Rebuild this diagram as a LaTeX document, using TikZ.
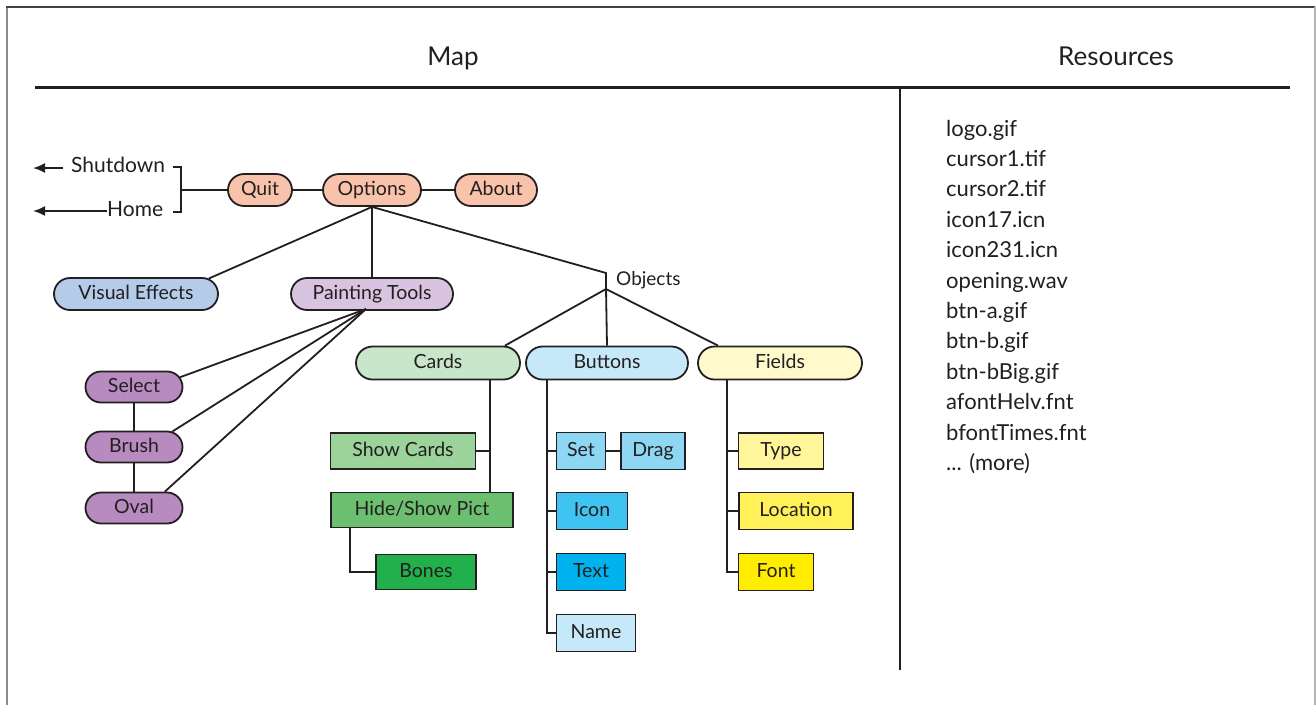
\documentclass[tikz,border=0pt]{standalone}
\usepackage{fontspec}
\setmainfont{Lato}
\usetikzlibrary{arrows.meta,shapes.misc}
\definecolor{linec}{HTML}{231F20}
\definecolor{salmon}{HTML}{F8C3AA}
\definecolor{veblue}{HTML}{B4CBE9}
\definecolor{ptlav}{HTML}{D8C3E0}
\definecolor{purp}{HTML}{B88BC0}
\definecolor{cardsg}{HTML}{C8E6C9}
\definecolor{buttc}{HTML}{C5E9F8}
\definecolor{fieldy}{HTML}{FFF9CB}
\definecolor{showg}{HTML}{9BD39B}
\definecolor{hspg}{HTML}{6BBF6F}
\definecolor{boneg}{HTML}{21B04B}
\definecolor{setc}{HTML}{8DD7F5}
\definecolor{iconc}{HTML}{3FC3F1}
\definecolor{textc}{HTML}{00B3EE}
\definecolor{typey}{HTML}{FFF59B}
\definecolor{locy}{HTML}{FFF157}
\definecolor{fonty}{HTML}{FFEC00}
\begin{document}
\begin{tikzpicture}[x=1pt,y=-1pt,
  every node/.style={text=linec},
  conn/.style={draw=linec,line width=1.8pt},
  arr/.style={draw=linec,line width=1.8pt,-{Latex[length=12pt,width=10pt]}},
  lbl/.style={font=\fontsize{19.5}{22}\selectfont,text height=1.1em,text depth=0em},
  side/.style={font=\fontsize{21}{24}\selectfont,text height=1.1em,text depth=0em,inner sep=0pt},
  pill/.style={lbl,rounded rectangle,draw=linec,line width=1.8pt,inner sep=0pt,minimum height=32pt},
  boxn/.style={lbl,rectangle,draw=linec,line width=1.8pt,inner sep=0pt,minimum height=36pt},
  head/.style={font=\fontsize{26}{30}\selectfont,text height=1.1em,text depth=0em},
  res/.style={font=\fontsize{22}{26}\selectfont,anchor=base west,inner sep=0pt}
]
\useasboundingbox (0,0) rectangle (1316,705);
% frame
\draw[draw=black!45,line width=2pt] (7,705) -- (7,7);
\draw[draw=black!75,line width=2pt] (6,7) -- (1315,7);
\draw[draw=black!30,line width=1.2pt] (1315,7) -- (1315,705);
% header
\node[head] (map) at (453,60) {Map};
\node[head] (resh) at (1116,60) {Resources};
\draw[draw=linec,line width=3pt] (35,87) -- (1290,87);
\draw[draw=linec,line width=2.5pt] (900,87) -- (900,670);

% top row
\node[pill,fill=salmon,minimum width=64pt] (quit) at (260,190) {Quit};
\node[pill,fill=salmon,minimum width=98pt] (opt) at (372,190) {Options};
\node[pill,fill=salmon,minimum width=82pt] (about) at (496,190) {About};
\draw[conn] (quit.east) -- (opt.west);
\draw[conn] (opt.east) -- (about.west);

% shutdown / home
\node[side,anchor=west] (sd) at (71,167) {Shutdown};
\node[side,anchor=west] (hm) at (107,211) {Home};
\coordinate (sdEnd) at (33,168);
\coordinate (hmEnd) at (33,211);
\draw[arr] ([xshift=-8pt,yshift=-1pt]sd.west) -- (sdEnd);
\draw[arr] (hm.west) -- (hmEnd);
\coordinate (brT) at (181,167);
\coordinate (brB) at (181,212);
\coordinate (brTl) at (173,167);
\coordinate (brBl) at (173,212);
\coordinate (brM) at (181,190);
\draw[conn] (brTl) -- (brT) -- (brB) -- (brBl);
\draw[conn] (brM) -- (quit.west);

% second level
\node[pill,fill=veblue,minimum width=164pt] (ve) at (136,294) {Visual Effects};
\node[pill,fill=ptlav,minimum width=162pt] (pt) at (372,294) {Painting Tools};
\draw[conn] (opt.south) -- (ve.12);
\draw[conn] (opt.south) -- (pt.north);

% objects
\coordinate (objC) at (606,273);
\coordinate (objJ) at (606,289);
\node[font=\fontsize{19}{22}\selectfont,text height=1.1em,text depth=0em,anchor=west,inner sep=0pt] (objl) at (616,280) {Objects};
\draw[conn] (opt.south) -- (objC) -- (objJ);
\node[pill,fill=cardsg,minimum width=164pt,minimum height=33pt] (cards) at (438,363) {Cards};
\node[pill,fill=buttc,minimum width=162pt,minimum height=33pt] (butt) at (607,363) {Buttons};
\node[pill,fill=fieldy,minimum width=164pt,minimum height=33pt] (fields) at (780,363) {Fields};
\draw[conn] (objJ) -- ([xshift=67pt]cards.north);
\draw[conn] (objJ) -- (butt.north);
\draw[conn] (objJ) -- ([xshift=-62pt]fields.north);

% painting tools children
\node[pill,fill=purp,minimum width=97pt,minimum height=31pt] (sel) at (134,387) {Select};
\node[pill,fill=purp,minimum width=97pt,minimum height=31pt] (brush) at (134,447) {Brush};
\node[pill,fill=purp,minimum width=97pt,minimum height=31pt] (oval) at (134,508) {Oval};
\coordinate (ptb) at (366,309);
\draw[conn] (ptb) -- (sel.12);
\draw[conn] (ptb) -- (brush.22);
\draw[conn] (ptb) -- (oval.28);
\draw[conn] (sel.south) -- (brush.north);
\draw[conn] (brush.south) -- (oval.north);

% cards children
\node[boxn,fill=showg,minimum width=145pt] (sc) at (403,451) {Show Cards};
\node[boxn,fill=hspg,minimum width=182pt,minimum height=35pt] (hsp) at (422,510) {Hide/Show Pict};
\node[boxn,fill=boneg,minimum width=100pt,minimum height=35pt] (bones) at (426,572) {Bones};
\coordinate (cv) at (490,380);
\draw[conn] ([xshift=52pt]cards.south) -- (cv |- hsp.north);
\draw[conn] (sc.east) -- (sc.east -| cv);
\draw[conn] ([xshift=20pt]hsp.south west) |- (bones.west);

% buttons children
\node[boxn,fill=setc,minimum width=49pt,minimum height=37pt] (set) at (581,451) {Set};
\node[boxn,fill=setc,minimum width=64pt,minimum height=37pt] (drag) at (653,451) {Drag};
\node[boxn,fill=iconc,minimum width=71pt,minimum height=37pt] (icon) at (592,511) {Icon};
\node[boxn,fill=textc,minimum width=69pt,minimum height=37pt] (txt) at (591,572) {Text};
\node[boxn,fill=buttc,minimum width=79pt,minimum height=37pt] (name) at (596,633) {Name};
\coordinate (bv) at (547,380);
\draw[conn] (bv) |- (name.west);
\draw[conn] (set.west) -- (set.west -| bv);
\draw[conn] (icon.west) -- (icon.west -| bv);
\draw[conn] (txt.west) -- (txt.west -| bv);
\draw[conn] (set.east) -- (drag.west);

% fields children
\node[boxn,fill=typey,minimum width=85pt] (type) at (781,451) {Type};
\node[boxn,fill=locy,minimum width=114pt,minimum height=37pt] (loc) at (796,511) {Location};
\node[boxn,fill=fonty,minimum width=75pt,minimum height=37pt] (font) at (776,572) {Font};
\coordinate (fv) at (727,380);
\draw[conn] (fv) |- (font.west);
\draw[conn] (type.west) -- (type.west -| fv);
\draw[conn] (loc.west) -- (loc.west -| fv);

% resources list
\node[res] (r1) at (946,136) {logo.gif};
\node[res] (r2) at (946,166.4) {cursor1.tif};
\node[res] (r3) at (946,196.8) {cursor2.tif};
\node[res] (r4) at (946,227.2) {icon17.icn};
\node[res] (r5) at (946,257.6) {icon231.icn};
\node[res] (r6) at (946,288) {opening.wav};
\node[res] (r7) at (946,318.4) {btn-a.gif};
\node[res] (r8) at (946,348.8) {btn-b.gif};
\node[res] (r9) at (946,379.2) {btn-bBig.gif};
\node[res] (r10) at (946,409.6) {afontHelv.fnt};
\node[res] (r11) at (946,440) {bfontTimes.fnt};
\node[res] (r12) at (946,470.4) {... (more)};
\end{tikzpicture}
\end{document}
